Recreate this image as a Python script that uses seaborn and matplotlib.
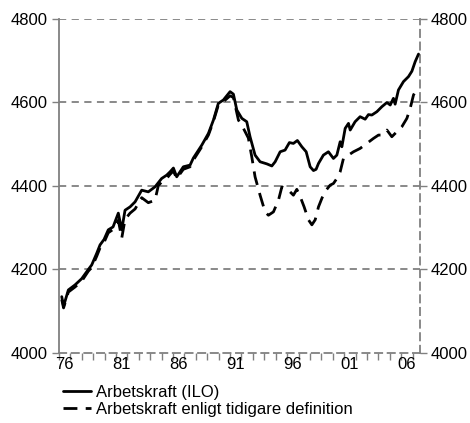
import pandas as pd
import matplotlib.pyplot as plt
import seaborn as sns

# Arbetskraft (ILO), tusental
years_ilo = [1976.24, 1976.4, 1976.82, 1977.4, 1977.99, 1978.57, 1978.87, 1979.31, 1979.6, 1979.95,
             1980.32, 1980.74, 1981.2, 1981.5, 1981.79, 1982.23, 1982.67, 1983.25, 1983.83, 1984.42,
             1985.0, 1985.44, 1985.74, 1986.03, 1986.32, 1986.9, 1987.49, 1987.78, 1988.52, 1989.1,
             1989.54, 1989.97, 1990.41, 1991.0, 1991.29, 1991.59, 1992.03, 1992.46, 1992.75, 1993.19,
             1993.63, 1994.22, 1994.66, 1994.95, 1995.39, 1995.82, 1996.2, 1996.55, 1996.9, 1997.29,
             1997.67, 1998.02, 1998.31, 1998.54, 1998.75, 1999.18, 1999.62, 2000.06, 2000.36, 2000.65,
             2000.8, 2001.09, 2001.38, 2001.53, 2001.96, 2002.4, 2002.84, 2003.13, 2003.43, 2003.87,
             2004.31, 2004.75, 2005.04, 2005.32, 2005.47, 2005.76, 2006.2, 2006.64, 2006.94, 2007.23,
             2007.52]
ilo = [4135, 4112, 4151, 4163, 4178, 4200, 4211, 4239, 4259, 4272,
       4295, 4302, 4335, 4295, 4342, 4350, 4362, 4390, 4386, 4398,
       4418, 4426, 4434, 4443, 4422, 4446, 4450, 4467, 4498, 4526,
       4558, 4598, 4606, 4626, 4620, 4582, 4562, 4554, 4518, 4474,
       4458, 4453, 4448, 4458, 4482, 4486, 4504, 4502, 4509, 4494,
       4482, 4446, 4437, 4440, 4454, 4474, 4482, 4466, 4474, 4506,
       4494, 4538, 4550, 4534, 4554, 4566, 4560, 4571, 4570, 4578,
       4590, 4600, 4594, 4610, 4596, 4630, 4650, 4662, 4675, 4698,
       4716]

# Arbetskraft enligt tidigare definition
years_old = [1976.24, 1976.4, 1976.82, 1977.4, 1977.99, 1978.57, 1978.87, 1979.31, 1979.6, 1979.95,
             1980.32, 1980.74, 1981.2, 1981.5, 1981.79, 1982.23, 1982.67, 1983.25, 1983.83, 1984.42,
             1984.7, 1985.0, 1985.44, 1985.74, 1986.03, 1986.32, 1986.9, 1987.49, 1987.78, 1988.52,
             1989.1, 1989.54, 1989.97, 1990.41, 1991.0, 1991.29, 1991.73, 1992.17, 1992.6, 1992.9,
             1993.19, 1993.63, 1994.07, 1994.36, 1994.8, 1995.24, 1995.54, 1995.82, 1996.26, 1996.55,
             1996.85, 1997.14, 1997.49, 1997.87, 1998.17, 1998.46, 1998.75, 1999.07, 1999.42, 1999.77,
             2000.06, 2000.36, 2000.65, 2000.94, 2001.38, 2001.82, 2002.4, 2002.99, 2003.57, 2004.01,
             2004.31, 2004.75, 2005.18, 2005.62, 2006.06, 2006.5, 2006.79, 2007.08, 2007.32]
old_def = [4128, 4108, 4146, 4158, 4172, 4196, 4205, 4232, 4252, 4265,
           4288, 4296, 4318, 4275, 4320, 4335, 4345, 4372, 4360, 4366,
           4400, 4410, 4418, 4428, 4436, 4418, 4440, 4446, 4462, 4494,
           4522, 4555, 4594, 4602, 4616, 4612, 4558, 4538, 4515, 4470,
           4422, 4378, 4338, 4330, 4338, 4366, 4398, 4394, 4386, 4378,
           4392, 4375, 4350, 4319, 4307, 4319, 4350, 4372, 4390, 4402,
           4406, 4418, 4434, 4466, 4474, 4482, 4490, 4502, 4514, 4522,
           4522, 4534, 4518, 4530, 4542, 4562, 4586, 4618, 4630]

label_years = [1976, 1981, 1986, 1991, 1996, 2001, 2006]
y_ticks = [4000, 4200, 4400, 4600, 4800]

sns.set_style('white')
plt.rcParams['font.family'] = ['Liberation Sans', 'DejaVu Sans']
plt.rcParams['text.color'] = 'black'
plt.rcParams['xtick.labelcolor'] = 'black'
plt.rcParams['ytick.labelcolor'] = 'black'

df_ilo = pd.DataFrame({'year': years_ilo, 'value': ilo})
df_old = pd.DataFrame({'year': years_old, 'value': old_def})

fig = plt.figure(figsize=(4.70, 4.23), dpi=100)
ax = fig.add_axes([59 / 470, 70 / 423, 361 / 470, 334 / 423])

grey = '#808080'
for v in y_ticks[1:]:
    ax.axhline(v, color=grey, lw=1.3, ls=(0, (4, 3)), zorder=1)

# old definition underneath, ILO on top
sns.lineplot(data=df_old, x='year', y='value', ax=ax, color='black', lw=2,
             label='Arbetskraft enligt tidigare definition', zorder=3)
ax.lines[-1].set_linestyle((0, (5, 3)))
sns.lineplot(data=df_ilo, x='year', y='value', ax=ax, color='black', lw=2,
             label='Arbetskraft (ILO)', zorder=4)

ax.set_xlim(1976, 2007.65)
ax.set_ylim(4000, 4800)
ax.set_xlabel('')
ax.set_ylabel('')

ax.set_xticks(range(1976, 2008))
ax.set_xticklabels([])
ax.set_xticks([y + 0.5 for y in label_years], minor=True)
ax.set_xticklabels([str(y)[2:] for y in label_years], minor=True)
ax.tick_params(axis='x', which='major', bottom=True, direction='out', length=5,
               color=grey, width=1)
ax.tick_params(axis='x', which='minor', bottom=True, length=0, labelsize=12, pad=3,
               labelcolor='black')

ax.set_yticks(y_ticks)
ax.tick_params(axis='y', direction='out', length=5, color=grey, width=1,
               left=True, right=True, labelleft=True, labelright=True, labelsize=12, pad=3,
               labelcolor='black')

for side in ['left', 'right', 'bottom']:
    ax.spines[side].set_color(grey)
    ax.spines[side].set_linewidth(1.3)
ax.spines['right'].set_linestyle((0, (4, 3)))
ax.spines['bottom'].set_linestyle((0, (4, 3)))
ax.spines['top'].set_visible(False)

handles, labels = ax.get_legend_handles_labels()
ax.get_legend().remove()
fig.legend(handles[::-1], labels[::-1], loc='upper left',
           bbox_to_anchor=(63 / 470, 1 - 385 / 423),
           frameon=False, fontsize=12, handlelength=1.7, handletextpad=0.3,
           labelspacing=0.1, borderaxespad=0, borderpad=0, labelcolor='black')

fig.savefig('out.png', dpi=100)
